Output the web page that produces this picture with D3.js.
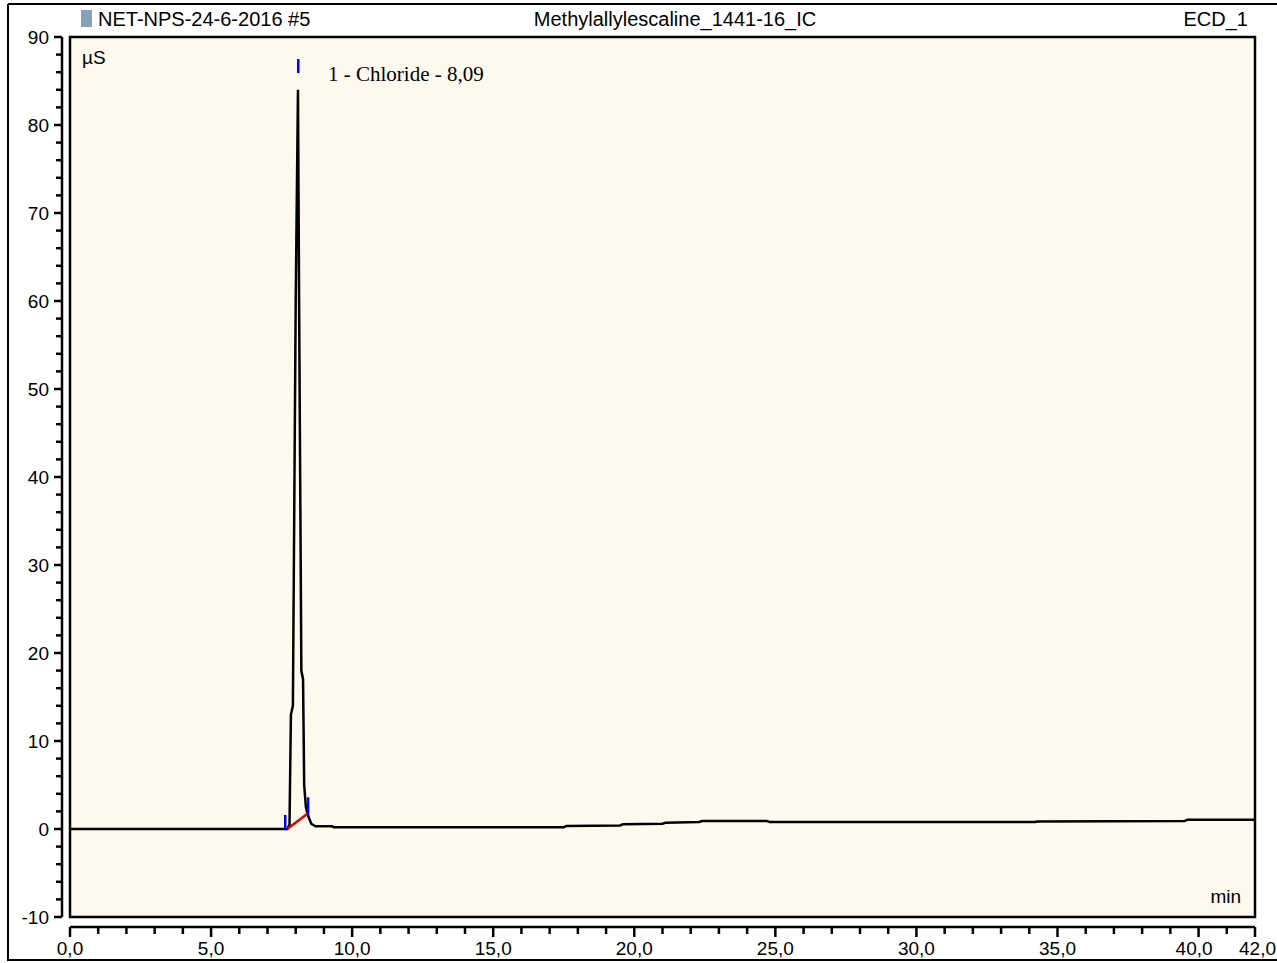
<!DOCTYPE html>
<html><head><meta charset="utf-8">
<script src="https://cdn.jsdelivr.net/npm/d3@7"></script>
<style>body{margin:0;background:#fff;} text{font-family:"Liberation Sans",Arial,sans-serif;}</style>
</head><body><div id="chart"></div>
<script>
// chromatogram trace: time (min) and signal (µS)
const TIMES = [0, 7.7, 7.78, 7.83, 7.9, 8.0, 8.08, 8.12, 8.2, 8.26, 8.3, 8.36, 8.44, 8.55, 8.7, 9.3, 9.35, 17.5, 17.6, 19.5, 19.6, 21.0, 21.1, 22.3, 22.4, 24.7, 24.8, 34.2, 34.3, 39.5, 39.6, 42.0];
const SIGNAL = [0, 0, 0.5, 13, 14, 60, 84, 60, 18, 17, 5, 2.5, 1.5, 0.6, 0.3, 0.3, 0.2, 0.2, 0.35, 0.4, 0.55, 0.6, 0.7, 0.8, 0.9, 0.9, 0.8, 0.8, 0.85, 0.9, 1.05, 1.05];
const PEAK_LABEL = "1 - Chloride - 8,09";
const PEAK_START = [7.7, 0];
const PEAK_END = [8.44, 1.8];
const PEAK_TOP = [8.09, 86.5];
const X_TICKS = [0, 5, 10, 15, 20, 25, 30, 35, 40, 42];
const Y_TICKS = [-10, 0, 10, 20, 30, 40, 50, 60, 70, 80, 90];

const W = 1277, H = 963;
const svg = d3.select("#chart").append("svg").attr("width", W).attr("height", H);

const x = d3.scaleLinear().domain([0, 42]).range([70, 1255]);
const y = d3.scaleLinear().domain([-10, 90]).range([917, 37]);

// outer frame
svg.append("path").attr("d", "M8,4H1277M8,4V960H1277").attr("fill", "none").attr("stroke", "#000").attr("stroke-width", 2);

// plot area
svg.append("rect").attr("x", 70).attr("y", 37).attr("width", 1185).attr("height", 880)
  .attr("fill", "#fdf9ee").attr("stroke", "#000").attr("stroke-width", 2.5);

// y axis
const yAxis = svg.append("g").attr("stroke", "#000").attr("stroke-width", 2.5);
yAxis.append("line").attr("x1", 62).attr("x2", 62).attr("y1", y(90)).attr("y2", y(-10));
d3.range(-10, 90.1, 2).forEach((v) => {
  const major = v % 10 === 0;
  yAxis.append("line").attr("x1", major ? 54 : 56).attr("x2", 62).attr("y1", y(v)).attr("y2", y(v));
});
svg.selectAll(".ylab").data(Y_TICKS).enter().append("text")
  .attr("x", 49).attr("y", (d) => y(d) + 7).attr("text-anchor", "end")
  .attr("font-size", 19).text((d) => d);

// x axis
const xAxis = svg.append("g").attr("stroke", "#000").attr("stroke-width", 2.5);
xAxis.append("line").attr("x1", x(0)).attr("x2", x(42)).attr("y1", 927).attr("y2", 927);
d3.range(0, 42.1, 1).forEach((v) => {
  const major = v % 5 === 0 || v === 42;
  xAxis.append("line").attr("x1", x(v)).attr("x2", x(v)).attr("y1", 927).attr("y2", major ? 937 : 934);
});
svg.selectAll(".xlab").data(X_TICKS).enter().append("text")
  .attr("x", (d) => x(d)).attr("y", 955)
  .attr("text-anchor", (d) => d === 40 ? "end" : d === 42 ? "end" : "middle")
  .attr("dx", (d) => d === 40 ? 14 : d === 42 ? 21 : 0)
  .attr("font-size", 19).text((d) => d.toFixed(1).replace(".", ","));

// trace
const line = d3.line().x((d) => x(d[0])).y((d) => y(d[1]));
svg.append("path").datum(TIMES.map((t, i) => [t, SIGNAL[i]]))
  .attr("d", line).attr("fill", "none").attr("stroke", "#000").attr("stroke-width", 2.5);

// peak baseline and markers
svg.append("path").datum([PEAK_START, PEAK_END]).attr("d", line)
  .attr("stroke", "#e00000").attr("stroke-width", 2.5);
[[PEAK_START, 0, 1.6, -2], [PEAK_END, -0.2, 1.8, 0], [PEAK_TOP, -0.6, 1, 0]].forEach(([p, a, b, dx]) => {
  svg.append("line").attr("x1", x(p[0]) + dx).attr("x2", x(p[0]) + dx)
    .attr("y1", y(p[1] + b)).attr("y2", y(p[1] + a))
    .attr("stroke", "#0000ff").attr("stroke-width", 2.5);
});
svg.append("text").attr("x", 328).attr("y", 81)
  .style("font-family", "'Liberation Serif',serif").attr("font-size", 21).text(PEAK_LABEL);

// titles
svg.append("rect").attr("x", 81).attr("y", 10).attr("width", 11).attr("height", 17).attr("fill", "#8aa0b4");
svg.append("text").attr("x", 98).attr("y", 26).attr("font-size", 20).text("NET-NPS-24-6-2016 #5");
svg.append("text").attr("x", 675).attr("y", 26).attr("font-size", 20).attr("text-anchor", "middle").text("Methylallylescaline_1441-16_IC");
svg.append("text").attr("x", 1248).attr("y", 26).attr("font-size", 20).attr("text-anchor", "end").text("ECD_1");
svg.append("text").attr("x", 82).attr("y", 64).attr("font-size", 19).text("µS");
svg.append("text").attr("x", 1241).attr("y", 903).attr("font-size", 19).attr("text-anchor", "end").text("min");
</script></body></html>
